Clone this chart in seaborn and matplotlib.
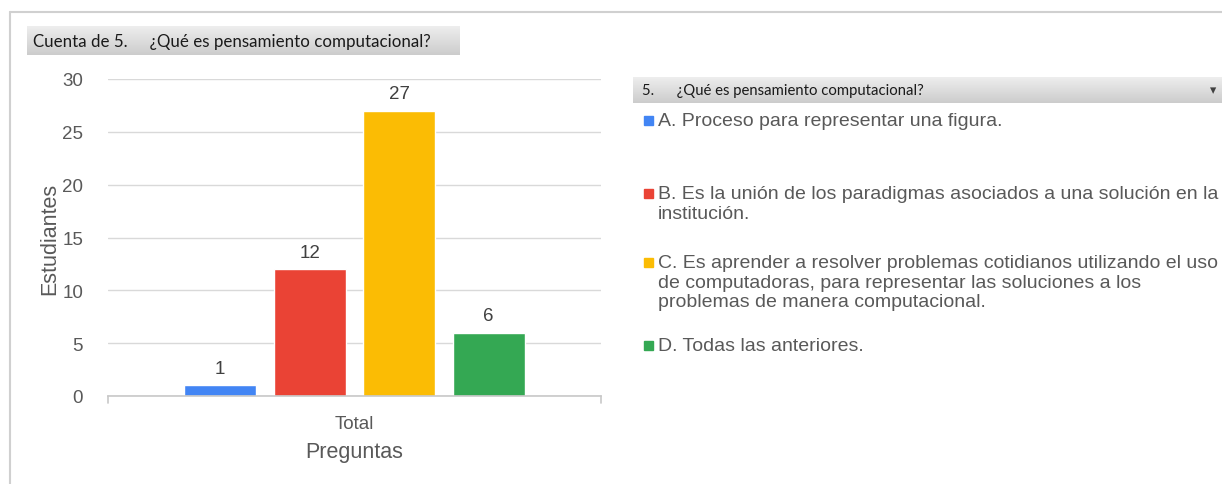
import numpy as np
import pandas as pd
import matplotlib
matplotlib.use("Agg")
import matplotlib.pyplot as plt
import seaborn as sns
from matplotlib.lines import Line2D
from matplotlib.patches import Rectangle

# =========================================================
# DATA
# =========================================================
categorias = ["A", "B", "C", "D"]
estudiantes = [1, 12, 27, 6]
grupo = ["Total", "Total", "Total", "Total"]
etiquetas = [
    "A. Proceso para representar una figura.",
    "B. Es la unión de los paradigmas asociados a una solución en la\ninstitución.",
    "C. Es aprender a resolver problemas cotidianos utilizando el uso\nde computadoras, para representar las soluciones a los\nproblemas de manera computacional.",
    "D. Todas las anteriores.",
]
colores = ["#4285F4", "#EA4335", "#FBBC04", "#34A853"]

df = pd.DataFrame({"grupo": grupo, "categoria": categorias, "estudiantes": estudiantes})

# =========================================================
# FIGURE
# =========================================================
sns.set_style("white")
plt.rcParams["font.family"] = ["Liberation Sans", "DejaVu Sans"]

W, H = 1222, 485
fig = plt.figure(figsize=(W / 100, H / 100), dpi=100)

def fx(px):
    return px / W

def fy(py):
    return 1 - py / H

ax = fig.add_axes([fx(108), fy(397), fx(601) - fx(108), fy(80) - fy(397)])
sns.barplot(data=df, x="grupo", y="estudiantes", hue="categoria",
            palette=colores, width=0.726, gap=0.2, ax=ax, legend=False,
            saturation=1)

ax.set_ylim(0, 30)
ax.set_yticks(range(0, 31, 5))
ax.yaxis.grid(True, color="#d9d9d9", linewidth=1)
ax.set_axisbelow(True)
for s in ["top", "right", "left"]:
    ax.spines[s].set_visible(False)
ax.spines["bottom"].set_color("#c8c8c8")
ax.spines["bottom"].set_linewidth(1.2)
ax.tick_params(axis="y", length=0, labelsize=13.5, labelcolor="#595959", pad=18)
ax.tick_params(axis="x", length=0, labelsize=13.5, labelcolor="#595959", pad=14)
ax.set_ylabel("Estudiantes", fontsize=15.5, color="#595959", labelpad=1)
ax.set_xlabel("Preguntas", fontsize=15.5, color="#595959", labelpad=6)

for cont in ax.containers:
    ax.bar_label(cont, fontsize=13.5, color="#404040", padding=6)

# small end ticks on x axis
for xe in [108, 601]:
    fig.add_artist(Line2D([fx(xe), fx(xe)], [fy(397), fy(404)], color="#c8c8c8", lw=1.2))

# outer frame
fig.add_artist(Line2D([fx(10), 1], [fy(13), fy(13)], color="#d0d0d0", lw=1.5))
fig.add_artist(Line2D([fx(10), fx(10)], [fy(13), 0], color="#d0d0d0", lw=1.5))

# gradient header boxes
grad = np.linspace(0.93, 0.80, 50).reshape(-1, 1)

def header(x0, y0, x1, y1, text, size, arrow=False):
    hax = fig.add_axes([fx(x0), fy(y1), fx(x1) - fx(x0), fy(y0) - fy(y1)])
    hax.imshow(grad, cmap="gray", vmin=0, vmax=1, aspect="auto")
    hax.axis("off")
    hax.text((6 if x0 < 100 else 9) / (x1 - x0), 0.5, text, transform=hax.transAxes,
             va="center", ha="left", fontsize=size, color="#1a1a1a",
             family=["Lato", "DejaVu Sans"])
    if arrow:
        hax.text(0.985, 0.5, "▾", transform=hax.transAxes, va="center",
                 ha="center", fontsize=9, color="#404040", family="DejaVu Sans")

header(27, 27, 460, 56, "Cuenta de 5.     ¿Qué es pensamiento computacional?", 12.2)
header(633, 78, 1222, 104, "5.      ¿Qué es pensamiento computacional?", 10.7, arrow=True)

# legend entries
ley_y = [122, 195, 264, 347]
for lab, col, yy in zip(etiquetas, colores, ley_y):
    fig.add_artist(Rectangle((fx(644), fy(yy + 4)), fx(9), fy(0) - fy(9),
                             color=col, transform=fig.transFigure))
    fig.text(fx(658), fy(yy - 9), lab, fontsize=14, color="#595959",
             va="top", ha="left", linespacing=1.2)

fig.savefig("out.png", dpi=100)
